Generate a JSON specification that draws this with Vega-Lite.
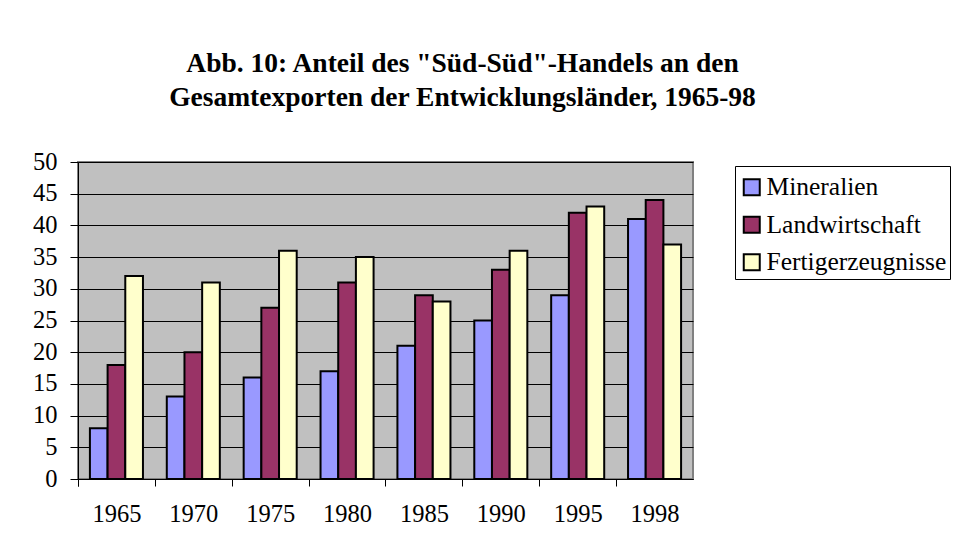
{
  "$schema": "https://vega.github.io/schema/vega-lite/v6.json",
  "autosize": {"type": "none"},
  "width": 615,
  "height": 317,
  "padding": {"left": 78, "top": 162, "right": 269, "bottom": 73},
  "background": "white",
  "title": {
    "text": ["Abb. 10: Anteil des \"Süd-Süd\"-Handels an den", "Gesamtexporten der Entwicklungsländer, 1965-98"],
    "font": "Liberation Serif",
    "fontSize": 27.5,
    "fontWeight": "bold",
    "color": "black",
    "lineHeight": 34,
    "anchor": "middle",
    "frame": "group",
    "dx": 77,
    "offset": 38
  },
  "data": {
    "values": [
      {"year": "1965", "series": "Mineralien", "value": 8},
      {"year": "1965", "series": "Landwirtschaft", "value": 18},
      {"year": "1965", "series": "Fertigerzeugnisse", "value": 32},
      {"year": "1970", "series": "Mineralien", "value": 13},
      {"year": "1970", "series": "Landwirtschaft", "value": 20},
      {"year": "1970", "series": "Fertigerzeugnisse", "value": 31},
      {"year": "1975", "series": "Mineralien", "value": 16},
      {"year": "1975", "series": "Landwirtschaft", "value": 27},
      {"year": "1975", "series": "Fertigerzeugnisse", "value": 36},
      {"year": "1980", "series": "Mineralien", "value": 17},
      {"year": "1980", "series": "Landwirtschaft", "value": 31},
      {"year": "1980", "series": "Fertigerzeugnisse", "value": 35},
      {"year": "1985", "series": "Mineralien", "value": 21},
      {"year": "1985", "series": "Landwirtschaft", "value": 29},
      {"year": "1985", "series": "Fertigerzeugnisse", "value": 28},
      {"year": "1990", "series": "Mineralien", "value": 25},
      {"year": "1990", "series": "Landwirtschaft", "value": 33},
      {"year": "1990", "series": "Fertigerzeugnisse", "value": 36},
      {"year": "1995", "series": "Mineralien", "value": 29},
      {"year": "1995", "series": "Landwirtschaft", "value": 42},
      {"year": "1995", "series": "Fertigerzeugnisse", "value": 43},
      {"year": "1998", "series": "Mineralien", "value": 41},
      {"year": "1998", "series": "Landwirtschaft", "value": 44},
      {"year": "1998", "series": "Fertigerzeugnisse", "value": 37}
    ]
  },
  "mark": {"type": "bar", "stroke": "black", "strokeWidth": 2, "strokeJoin": "miter"},
  "encoding": {
    "x": {
      "field": "year",
      "type": "nominal",
      "scale": {"paddingInner": 0.31, "paddingOuter": 0.155},
      "axis": {
        "title": null,
        "labelAngle": 0,
        "bandPosition": 0,
        "tickExtra": true,
        "tickOffset": -12,
        "labelOffset": 12,
        "tickSize": 7,
        "tickColor": "black",
        "domainColor": "black",
        "domainWidth": 1,
        "labelFont": "Liberation Serif",
        "labelFontSize": 24.5,
        "labelColor": "black",
        "labelPadding": 16
      }
    },
    "xOffset": {
      "field": "series",
      "type": "nominal",
      "sort": ["Mineralien", "Landwirtschaft", "Fertigerzeugnisse"],
      "scale": {"paddingInner": 0, "paddingOuter": 0}
    },
    "y": {
      "field": "value",
      "type": "quantitative",
      "scale": {"domain": [0, 50], "nice": false},
      "axis": {
        "title": null,
        "values": [0, 5, 10, 15, 20, 25, 30, 35, 40, 45, 50],
        "grid": true,
        "gridColor": "black",
        "gridWidth": 1,
        "gridOpacity": 1,
        "tickSize": 8,
        "tickColor": "black",
        "domainColor": "black",
        "domainWidth": 1,
        "labelFont": "Liberation Serif",
        "labelFontSize": 24.5,
        "labelColor": "black",
        "labelPadding": 13
      }
    },
    "color": {
      "field": "series",
      "type": "nominal",
      "sort": ["Mineralien", "Landwirtschaft", "Fertigerzeugnisse"],
      "scale": {
        "domain": ["Mineralien", "Landwirtschaft", "Fertigerzeugnisse"],
        "range": ["#9999FF", "#993366", "#FFFFCC"]
      },
      "legend": {
        "title": " ",
        "titleFontSize": 1,
        "titlePadding": 4.5,
        "orient": "none",
        "legendX": 657,
        "legendY": 4,
        "padding": 3,
        "strokeColor": "black",
        "fillColor": "white",
        "symbolType": "square",
        "symbolSize": 256,
        "symbolOffset": 1,
        "symbolStrokeColor": "black",
        "symbolStrokeWidth": 2,
        "symbolOpacity": 1,
        "labelFont": "Liberation Serif",
        "labelFontSize": 25.5,
        "labelColor": "black",
        "labelOffset": 2,
        "labelLimit": 300,
        "rowPadding": 10.5
      }
    }
  },
  "config": {
    "view": {"fill": "#C0C0C0", "stroke": "#808080", "strokeWidth": 2},
    "axis": {"grid": false}
  }
}
